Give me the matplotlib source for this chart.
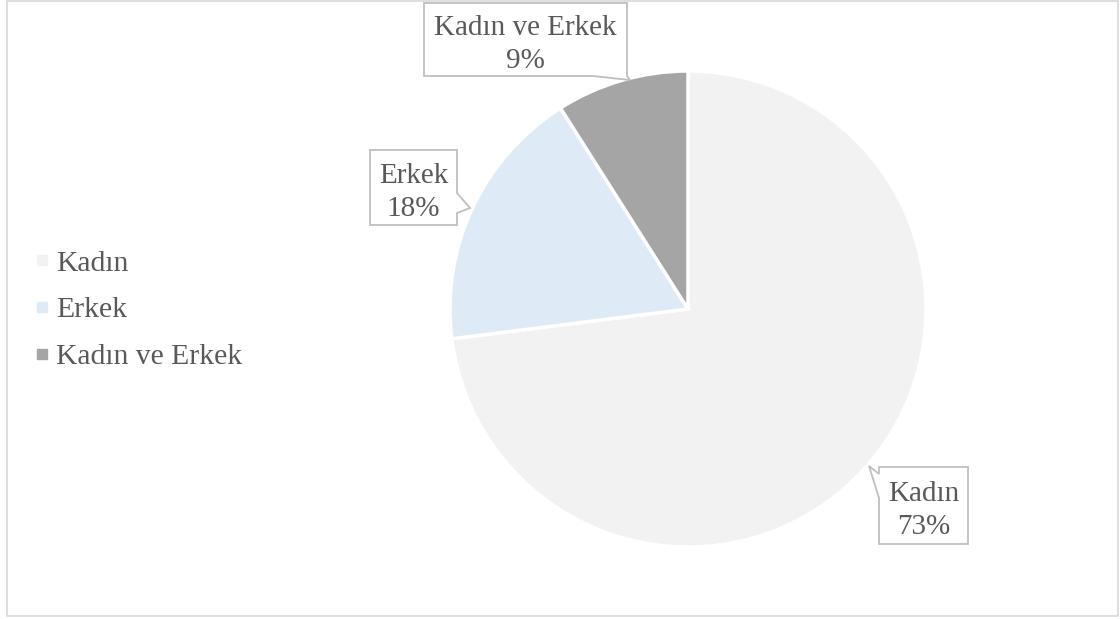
import matplotlib
matplotlib.use("Agg")
import matplotlib.pyplot as plt
from matplotlib.patches import Polygon, Rectangle
from matplotlib.lines import Line2D

categories = ["Kadın", "Erkek", "Kadın ve Erkek"]
values = [73, 18, 9]
colors = ["#F2F2F2", "#DEEBF7", "#A5A5A5"]
pct_labels = ["73%", "18%", "9%"]

W, H = 1120, 619
plt.rcParams['font.family'] = ['Liberation Serif', 'DejaVu Serif']
fig = plt.figure(figsize=(W / 100, H / 100), dpi=100)

def fx(px):
    return px / W

def fy(py):
    return 1 - py / H

# chart border
fig.patches.append(Rectangle((fx(7), fy(616)), fx(1118) - fx(7), fy(1) - fy(616),
                             transform=fig.transFigure, fill=False,
                             edgecolor="#D9D9D9", linewidth=1.2))

cx, cy, r = 688, 309, 238
ax = fig.add_axes([fx(cx - r), fy(cy + r), 2 * r / W, 2 * r / H])
ax.pie(values, colors=colors, startangle=90, counterclock=False,
       wedgeprops=dict(edgecolor="white", linewidth=2.5))
ax.set_xlim(-1, 1)
ax.set_ylim(-1, 1)
ax.set_aspect("auto")
ax.axis("off")

# callout boxes (pixel layout)
callouts = [
    dict(box=(879, 467, 968, 544), ptr=[(879, 498), (869, 466), (879, 474)], side="left"),
    dict(box=(370, 150, 457, 225), ptr=[(457, 193), (470, 208), (457, 213)], side="right"),
    dict(box=(424, 3, 627, 76), ptr=[(627, 76), (630, 80), (593, 76)], side="bottom"),
]

def box_path(c):
    l, t, rr, b = c["box"]
    p = c["ptr"]
    if c["side"] == "left":
        pts = [(l, t), (rr, t), (rr, b), (l, b), p[0], p[1], p[2]]
    elif c["side"] == "right":
        pts = [(l, t), (rr, t), p[0], p[1], p[2], (rr, b), (l, b)]
    else:
        pts = [(l, t), (rr, t), p[0], p[1], p[2], (l, b)]
    return [(fx(x), fy(y)) for x, y in pts]

FS = 21
for cat, pct, c in zip(categories, pct_labels, callouts):
    poly = Polygon(box_path(c), closed=True, transform=fig.transFigure,
                   facecolor="white", edgecolor="#BFBFBF", linewidth=1.3)
    fig.patches.append(poly)
    l, t, rr, b = c["box"]
    fig.text(fx((l + rr) / 2), fy((t + b) / 2 + 5), f"{cat}\n{pct}",
             ha="center", va="center", fontsize=FS, color="#595959",
             linespacing=1.34)

# legend
handles = [Line2D([0], [0], marker="s", linestyle="none", markersize=7,
                  markerfacecolor=col, markeredgecolor=col) for col in colors]
fig.legend(handles, categories, loc="center left",
           bbox_to_anchor=(fx(4), fy(310)), frameon=False,
           fontsize=21.3, labelcolor="#595959", handletextpad=0.05,
           handlelength=0.8, labelspacing=0.68)

fig.savefig("out.png", dpi=100)
